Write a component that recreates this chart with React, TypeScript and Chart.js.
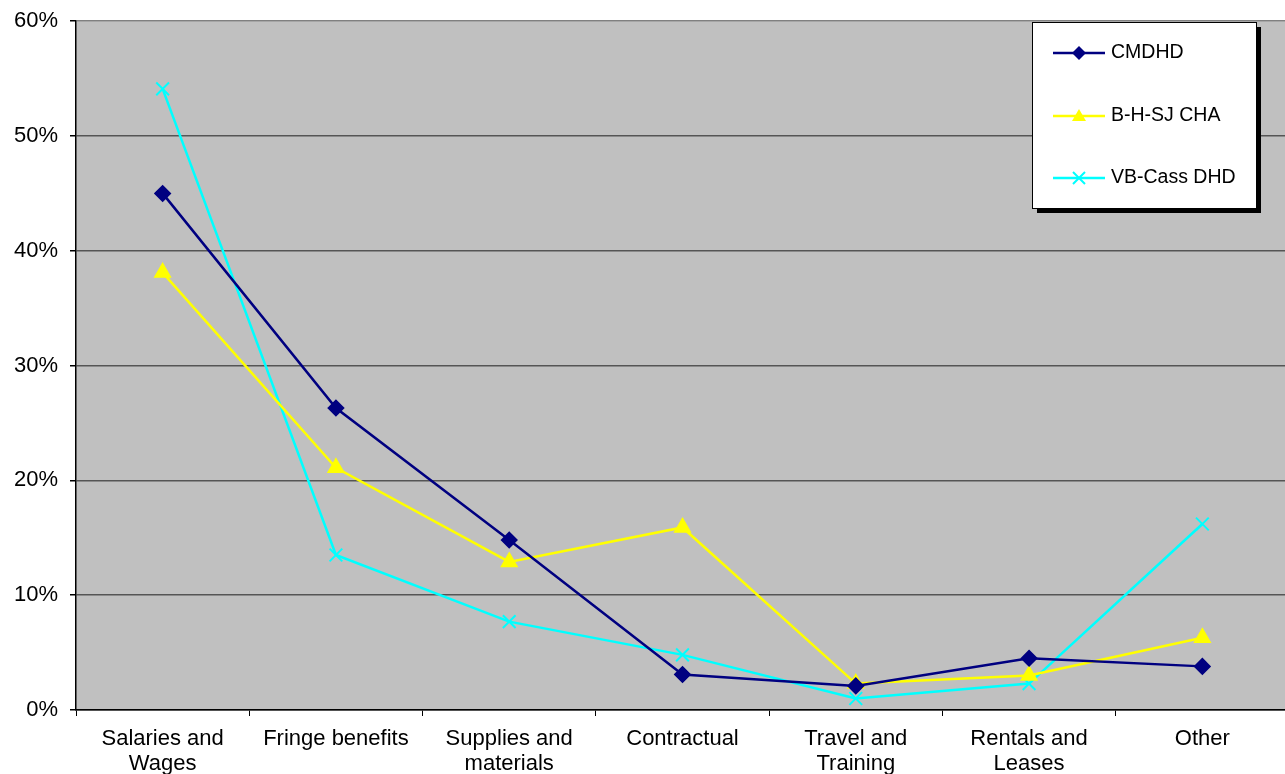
import React, { useEffect, useRef } from "react";
import { Chart, registerables } from "chart.js";

Chart.register(...registerables);

const categories: (string | string[])[] = [
  ["Salaries and", "Wages"],
  "Fringe benefits",
  ["Supplies and", "materials"],
  "Contractual",
  ["Travel and", "Training"],
  ["Rentals and", "Leases"],
  "Other",
];
const cmdhd = [45.0, 26.3, 14.8, 3.1, 2.1, 4.5, 3.8];
const bhsj = [38.1, 21.1, 12.9, 15.9, 2.3, 3.0, 6.3];
const vbcass = [54.1, 13.5, 7.7, 4.8, 1.0, 2.3, 16.2];
const seriesNames = ["CMDHD", "B-H-SJ CHA", "VB-Cass DHD"];

const FONT = "'Liberation Sans', Arial, sans-serif";
const SHIFT = 4;

const bgPlugin = {
  id: "bgPlugin",
  beforeDraw(chart: any) {
    const { ctx, chartArea } = chart;
    ctx.save();
    ctx.fillStyle = "#C0C0C0";
    ctx.fillRect(chartArea.left, chartArea.top, chartArea.right - chartArea.left, chartArea.bottom - chartArea.top);
    ctx.restore();
  },
};

const legendPlugin = {
  id: "customLegend",
  afterDraw(chart: any) {
    const ctx = chart.ctx;
    const x = 1032, y = 22 + SHIFT, w = 224, h = 186;
    ctx.save();
    ctx.fillStyle = "#000";
    ctx.fillRect(x + 5, y + 5, w, h);
    ctx.fillStyle = "#fff";
    ctx.fillRect(x, y, w, h);
    ctx.strokeStyle = "#000";
    ctx.lineWidth = 1;
    ctx.strokeRect(x + 0.5, y + 0.5, w, h);
    const rows = [53 + SHIFT, 116 + SHIFT, 178 + SHIFT];
    chart.data.datasets.forEach((ds: any, i: number) => {
      const ry = rows[i];
      ctx.strokeStyle = ds.borderColor;
      ctx.lineWidth = 2.5;
      ctx.beginPath();
      ctx.moveTo(1053, ry);
      ctx.lineTo(1105, ry);
      ctx.stroke();
      const style = ds.pointStyle;
      ctx.fillStyle = ds.pointBackgroundColor;
      ctx.strokeStyle = ds.pointBorderColor;
      ctx.lineWidth = 2;
      const cx = 1079;
      if (style === "rectRot") {
        const r = 7;
        ctx.beginPath();
        ctx.moveTo(cx, ry - r);
        ctx.lineTo(cx + r, ry);
        ctx.lineTo(cx, ry + r);
        ctx.lineTo(cx - r, ry);
        ctx.closePath();
        ctx.fill();
      } else if (style === "triangle") {
        ctx.beginPath();
        ctx.moveTo(cx, ry - 7);
        ctx.lineTo(cx + 7, ry + 5);
        ctx.lineTo(cx - 7, ry + 5);
        ctx.closePath();
        ctx.fill();
      } else {
        const r = 6;
        ctx.beginPath();
        ctx.moveTo(cx - r, ry - r);
        ctx.lineTo(cx + r, ry + r);
        ctx.moveTo(cx + r, ry - r);
        ctx.lineTo(cx - r, ry + r);
        ctx.stroke();
      }
      ctx.fillStyle = "#000";
      ctx.font = `19.5px ${FONT}`;
      ctx.textBaseline = "middle";
      ctx.textAlign = "left";
      ctx.fillText(ds.label, 1111, ry);
    });
    ctx.restore();
  },
};

export default function App() {
  const ref = useRef<HTMLCanvasElement>(null);
  useEffect(() => {
    document.body.style.margin = "0";
    const chart = new Chart(ref.current as HTMLCanvasElement, {
      type: "line",
      data: {
        labels: categories as any,
        datasets: [
          {
            label: seriesNames[0],
            data: cmdhd,
            borderColor: "#000080",
            backgroundColor: "#000080",
            pointBackgroundColor: "#000080",
            pointBorderColor: "#000080",
            pointStyle: "rectRot",
            pointRadius: 7,
            borderWidth: 2.5,
            tension: 0,
          },
          {
            label: seriesNames[1],
            data: bhsj,
            borderColor: "#FFFF00",
            backgroundColor: "#FFFF00",
            pointBackgroundColor: "#FFFF00",
            pointBorderColor: "#FFFF00",
            pointStyle: "triangle",
            pointRadius: 8,
            borderWidth: 2.5,
            tension: 0,
          },
          {
            label: seriesNames[2],
            data: vbcass,
            borderColor: "#00FFFF",
            backgroundColor: "#00FFFF",
            pointBackgroundColor: "#00FFFF",
            pointBorderColor: "#00FFFF",
            pointStyle: "crossRot",
            pointRadius: 9,
            pointBorderWidth: 2,
            borderWidth: 2.5,
            tension: 0,
          },
        ],
      },
      options: {
        animation: false,
        responsive: false,
        maintainAspectRatio: false,
        layout: { padding: { top: 17, left: 0, right: 0, bottom: 0 } },
        plugins: { legend: { display: false }, tooltip: { enabled: false } },
        scales: {
          x: {
            offset: true,
            grid: {
              offset: true,
              drawOnChartArea: false,
              drawTicks: true,
              tickLength: 6,
              color: "#000",
            },
            border: { color: "#000", width: 1.5 },
            ticks: {
              color: "#000",
              font: { family: FONT, size: 22, lineHeight: 1.14 },
              padding: 10,
              maxRotation: 0,
              autoSkip: false,
            },
            afterFit(scale: any) {
              scale.height = 64;
            },
          },
          y: {
            min: 0,
            max: 60,
            ticks: {
              stepSize: 10,
              color: "#000",
              font: { family: FONT, size: 22 },
              padding: 12,
              callback: (v: any) => v + "%",
            },
            grid: {
              color: (c: any) => (c.tick && c.tick.value === 60 ? "#808080" : "#555555"),
              lineWidth: 1.5,
              tickLength: 6,
              tickColor: "#000",
            },
            border: { color: "#000", width: 1.5 },
            afterFit(scale: any) {
              scale.width = 76;
            },
          },
        },
      },
      plugins: [bgPlugin, legendPlugin],
    });
    return () => chart.destroy();
  }, []);
  return (
    <div style={{ width: 1285, height: 774, overflow: "hidden", position: "relative" }}>
      <canvas
        ref={ref}
        width={1300}
        height={774 + SHIFT}
        style={{ display: "block", position: "absolute", left: 0, top: -SHIFT }}
      />
    </div>
  );
}
